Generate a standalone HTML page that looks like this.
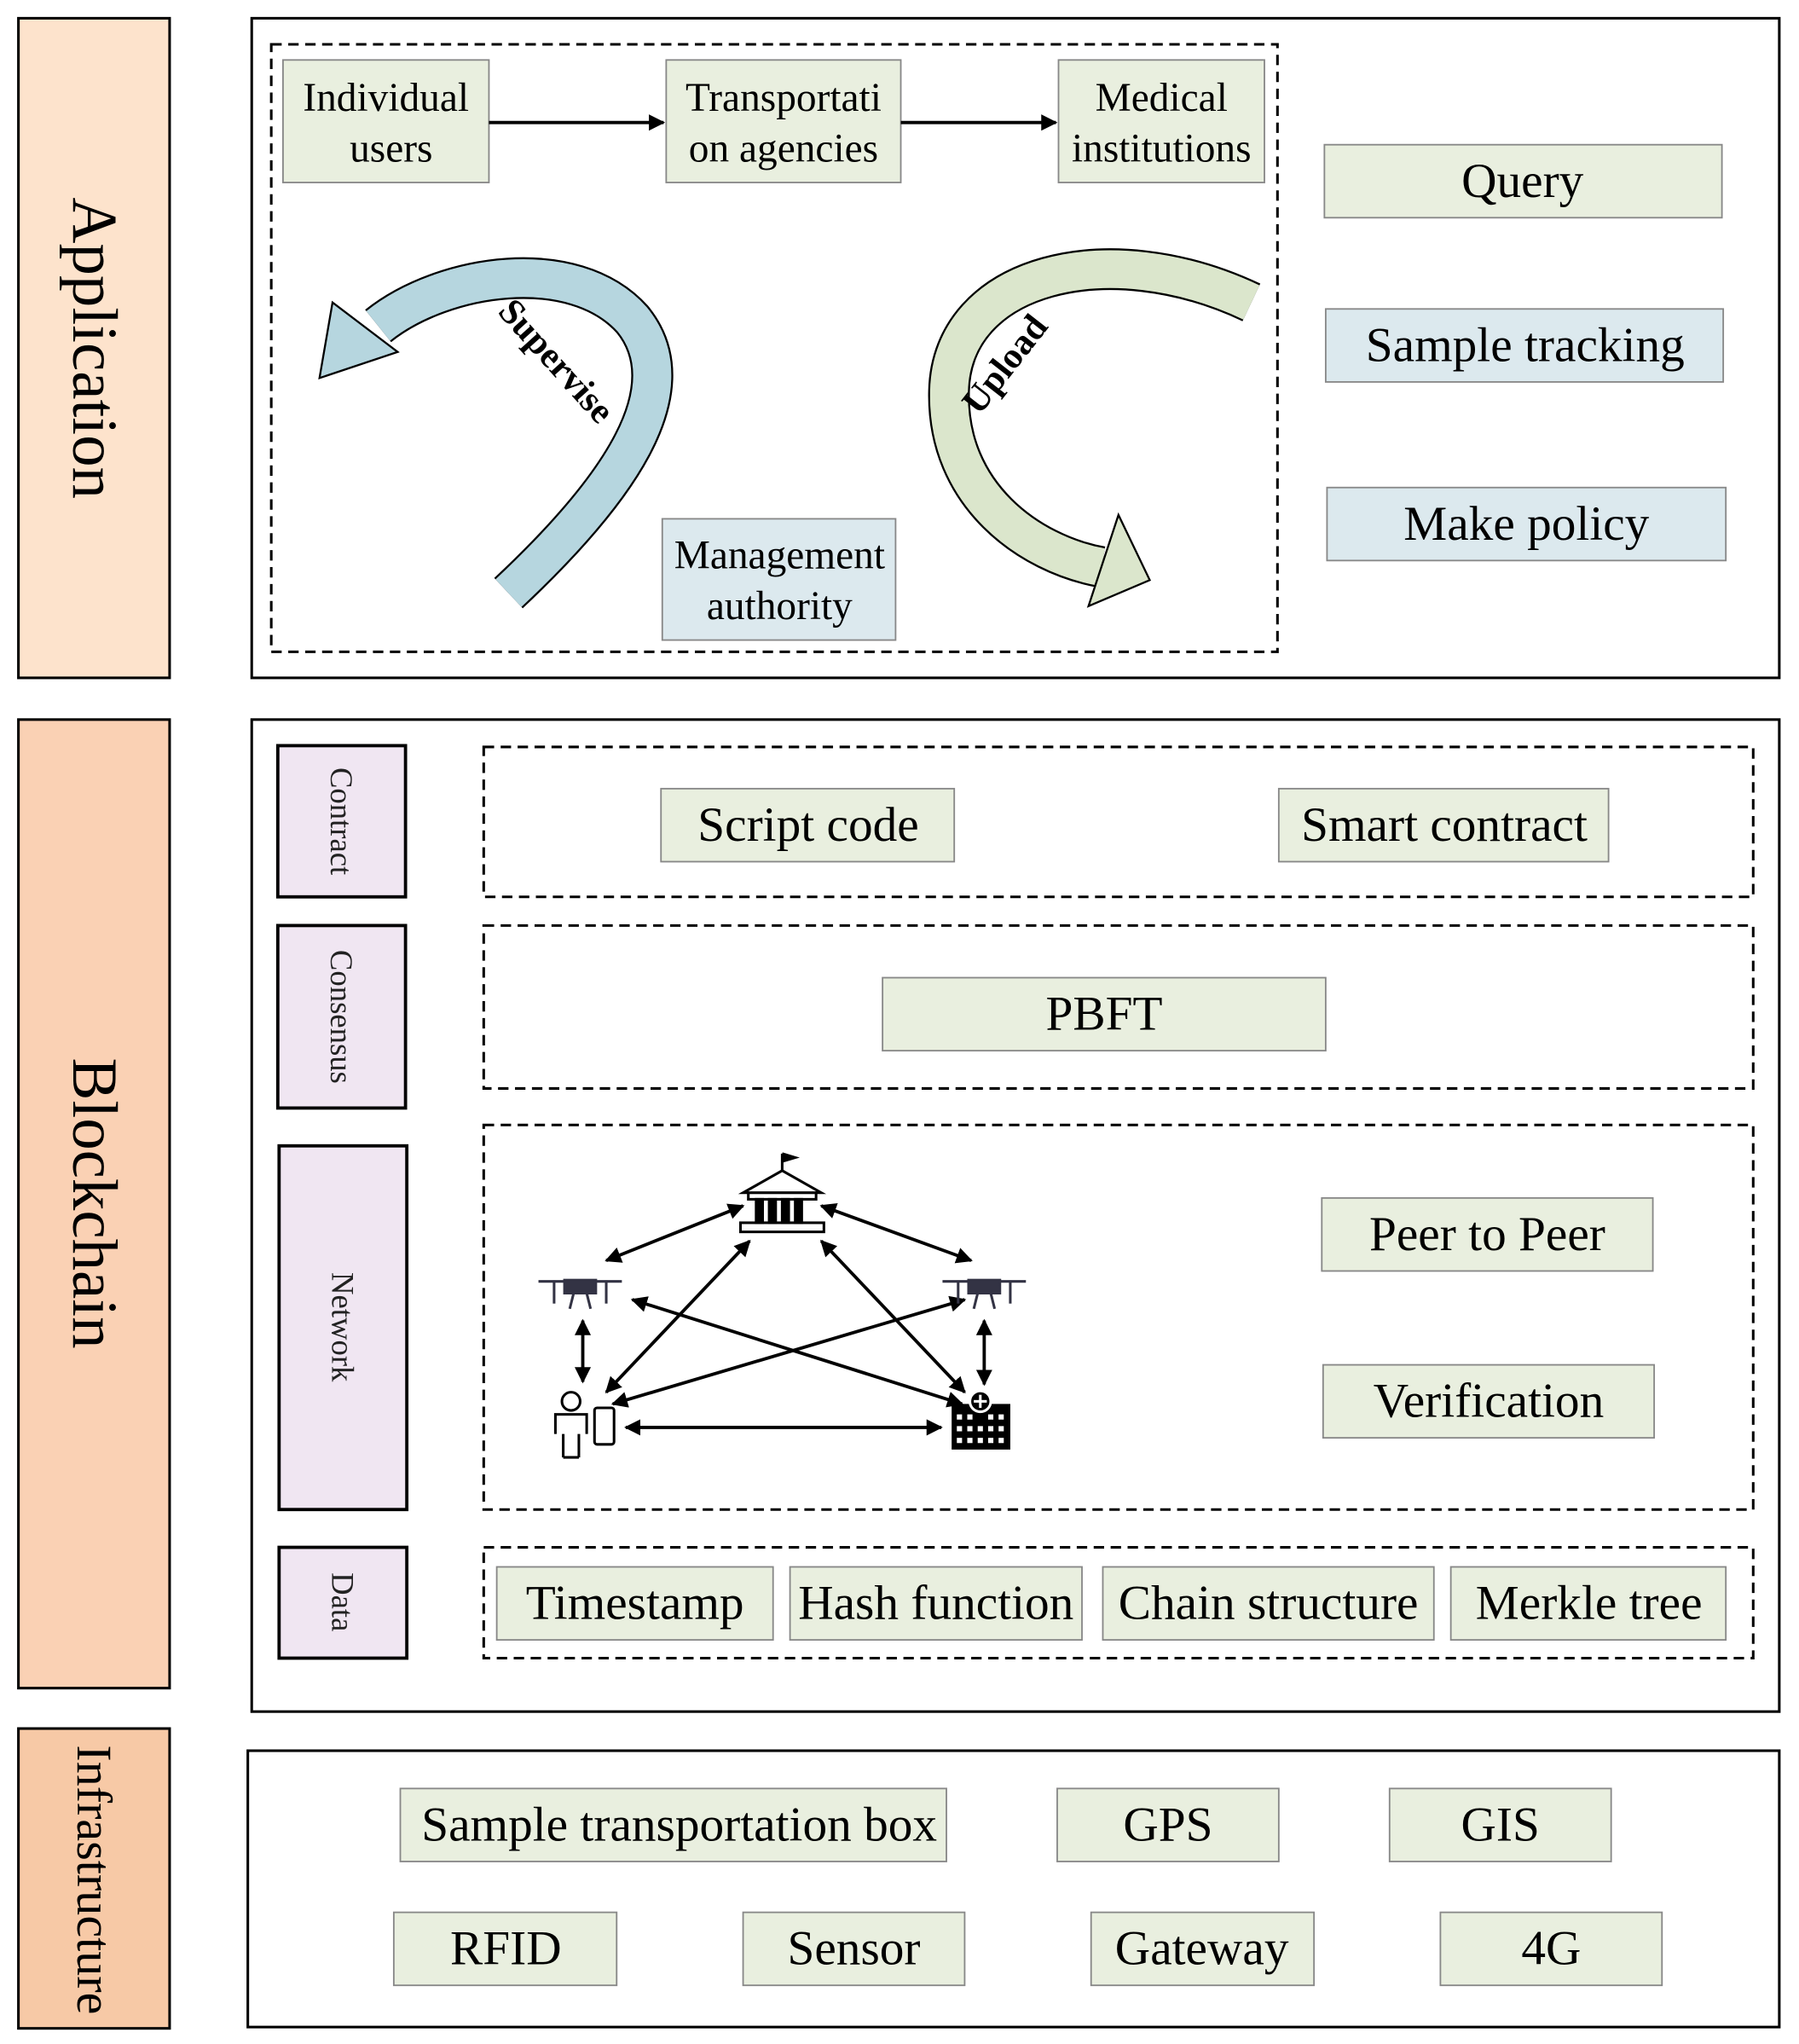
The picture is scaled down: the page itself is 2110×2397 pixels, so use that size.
<!DOCTYPE html>
<html><head><meta charset="utf-8"><style>html,body{margin:0;padding:0;background:#fff}svg{display:block}</style></head>
<body>
<svg xmlns="http://www.w3.org/2000/svg" width="2110" height="2397" viewBox="0 0 1380 1568" font-family="Liberation Serif, serif">
<defs>
<marker id="ah" viewBox="0 0 10 10" refX="9" refY="5" markerWidth="5" markerHeight="5" orient="auto-start-reverse"><path d="M0,0 L10,5 L0,10 z" fill="#000"/></marker>
</defs>
<rect width="1380" height="1568" fill="#fff"/>
<g stroke="#000" stroke-width="2">
<rect x="14" y="14" width="116" height="506" fill="#fde3cc"/>
<rect x="14" y="552" width="116" height="743" fill="#fad1b4"/>
<rect x="14" y="1326" width="116" height="230" fill="#f7c9a6"/>
</g>
<g text-anchor="middle">
<text transform="translate(72,267) rotate(90)" dominant-baseline="central" font-size="49">Application</text>
<text transform="translate(72,923) rotate(90)" dominant-baseline="central" font-size="49">Blockchain</text>
<text transform="translate(72,1442) rotate(90)" dominant-baseline="central" font-size="38">Infrastructure</text>
</g>
<g fill="none" stroke="#000" stroke-width="2">
<rect x="193" y="14" width="1172" height="506"/>
<rect x="193" y="552" width="1172" height="761"/>
<rect x="190" y="1343" width="1175" height="212"/>
</g>
<g fill="none" stroke="#000" stroke-width="2" stroke-dasharray="8,5">
<rect x="208" y="34" width="772" height="466"/>
<rect x="371" y="573" width="974" height="115"/>
<rect x="371" y="710" width="974" height="125"/>
<rect x="371" y="863" width="974" height="295"/>
<rect x="371" y="1187" width="974" height="85"/>
</g>
<g stroke="#888" stroke-width="1.2">
<g fill="#e9efdf">
<rect x="217" y="46" width="158" height="94"/>
<rect x="511" y="46" width="180" height="94"/>
<rect x="812" y="46" width="158" height="94"/>
<rect x="1016" y="111" width="305" height="56"/>
<rect x="507" y="605" width="225" height="56"/>
<rect x="981" y="605" width="253" height="56"/>
<rect x="677" y="750" width="340" height="56"/>
<rect x="1014" y="919" width="254" height="56"/>
<rect x="1015" y="1047" width="254" height="56"/>
<rect x="381" y="1202" width="212" height="56"/>
<rect x="606" y="1202" width="224" height="56"/>
<rect x="846" y="1202" width="254" height="56"/>
<rect x="1113" y="1202" width="211" height="56"/>
<rect x="307" y="1372" width="419" height="56"/>
<rect x="811" y="1372" width="170" height="56"/>
<rect x="1066" y="1372" width="170" height="56"/>
<rect x="302" y="1467" width="171" height="56"/>
<rect x="570" y="1467" width="170" height="56"/>
<rect x="837" y="1467" width="171" height="56"/>
<rect x="1105" y="1467" width="170" height="56"/>
</g>
<g fill="#dce9ee">
<rect x="1017" y="237" width="305" height="56"/>
<rect x="1018" y="374" width="306" height="56"/>
<rect x="508" y="398" width="179" height="93"/>
</g>
</g>
<g stroke="#000" stroke-width="2.5" fill="#f0e6f2">
<rect x="213" y="572" width="98" height="116"/>
<rect x="213" y="710" width="98" height="140"/>
<rect x="214" y="879" width="98" height="279"/>
<rect x="214" y="1187" width="98" height="85"/>
</g>
<g font-size="24" text-anchor="middle" fill="#222">
<text transform="translate(262,630) rotate(90)" dominant-baseline="central">Contract</text>
<text transform="translate(262,780) rotate(90)" dominant-baseline="central">Consensus</text>
<text transform="translate(263,1018) rotate(90)" dominant-baseline="central">Network</text>
<text transform="translate(263,1229) rotate(90)" dominant-baseline="central">Data</text>
</g>
<g font-size="31" text-anchor="middle">
<text x="296" y="85">Individual</text><text x="300" y="124">users</text>
<text x="601" y="85">Transportati</text><text x="601" y="124">on agencies</text>
<text x="891" y="85">Medical</text><text x="891" y="124">institutions</text>
<text x="598" y="436">Management</text><text x="598" y="475">authority</text>
</g>
<g font-size="37.5" text-anchor="middle">
<text x="1168" y="151">Query</text>
<text x="1170" y="277">Sample tracking</text>
<text x="1171" y="414">Make policy</text>
<text x="620" y="645">Script code</text>
<text x="1108" y="645">Smart contract</text>
<text x="847" y="790">PBFT</text>
<text x="1141" y="959">Peer to Peer</text>
<text x="1142" y="1087">Verification</text>
<text x="487" y="1242">Timestamp</text>
<text x="718" y="1242">Hash function</text>
<text x="973" y="1242">Chain structure</text>
<text x="1219" y="1242">Merkle tree</text>
<text x="521" y="1412">Sample transportation box</text>
<text x="896" y="1412">GPS</text>
<text x="1151" y="1412">GIS</text>
<text x="388" y="1507">RFID</text>
<text x="655" y="1507">Sensor</text>
<text x="922" y="1507">Gateway</text>
<text x="1190" y="1507">4G</text>
</g>
<g stroke="#000" stroke-width="2.5" marker-end="url(#ah)">
<line x1="375" y1="94" x2="509" y2="94"/>
<line x1="691" y1="94" x2="810" y2="94"/>
</g>
<path d="M390,455 C470,380 530,300 485,245 C440,195 340,210 290,250" fill="none" stroke="#000" stroke-width="32"/>
<path d="M390,455 C470,380 530,300 485,245 C440,195 340,210 290,250" fill="none" stroke="#b6d6df" stroke-width="29"/>
<polygon points="245,290 255,232 305,270" fill="#b6d6df" stroke="#000" stroke-width="1.5"/>
<text transform="translate(420,283) rotate(48)" font-size="28" text-anchor="middle" font-weight="bold">Supervise</text>
<path d="M960,232 C850,180 730,210 728,300 C726,380 790,425 845,435" fill="none" stroke="#000" stroke-width="32"/>
<path d="M960,232 C850,180 730,210 728,300 C726,380 790,425 845,435" fill="none" stroke="#dbe6cc" stroke-width="29"/>
<polygon points="835,465 882,445 858,395" fill="#dbe6cc" stroke="#000" stroke-width="1.5"/>
<text transform="translate(778,285) rotate(-52)" font-size="28" text-anchor="middle" font-weight="bold">Upload</text>
<g stroke="#000" stroke-width="2.5" marker-end="url(#ah)" marker-start="url(#ah)">
<line x1="465" y1="967" x2="570" y2="925"/>
<line x1="630" y1="925" x2="745" y2="967"/>
<line x1="447" y1="1013" x2="447" y2="1060"/>
<line x1="755" y1="1013" x2="755" y2="1062"/>
<line x1="465" y1="1068" x2="575" y2="952"/>
<line x1="630" y1="952" x2="740" y2="1068"/>
<line x1="485" y1="997" x2="738" y2="1077"/>
<line x1="470" y1="1077" x2="740" y2="997"/>
<line x1="480" y1="1095" x2="722" y2="1095"/>
</g>
<g stroke="#000" stroke-width="2" fill="#fff">
<path d="M570,915 L600,898 L630,915 Z"/>
<rect x="574" y="915" width="52" height="5"/>
<rect x="568" y="938" width="64" height="7"/>
<line x1="600" y1="898" x2="600" y2="885"/><path d="M600,885 L610,888 L600,891" fill="#000"/>
<g fill="#000"><rect x="580" y="920" width="5" height="18"/><rect x="590" y="920" width="5" height="18"/><rect x="600" y="920" width="5" height="18"/><rect x="610" y="920" width="5" height="18"/></g>
</g>
<g fill="#334" stroke="#334" stroke-width="2">
<g transform="translate(445,988)"><line x1="-32" y1="-5" x2="32" y2="-5"/><rect x="-12" y="-6" width="24" height="10"/><line x1="-20" y1="-5" x2="-20" y2="12"/><line x1="20" y1="-5" x2="20" y2="12"/><line x1="-5" y1="4" x2="-8" y2="16"/><line x1="5" y1="4" x2="8" y2="16"/></g>
<g transform="translate(755,988)"><line x1="-32" y1="-5" x2="32" y2="-5"/><rect x="-12" y="-6" width="24" height="10"/><line x1="-20" y1="-5" x2="-20" y2="12"/><line x1="20" y1="-5" x2="20" y2="12"/><line x1="-5" y1="4" x2="-8" y2="16"/><line x1="5" y1="4" x2="8" y2="16"/></g>
</g>
<g stroke="#000" stroke-width="2" fill="#fff">
<circle cx="438" cy="1075" r="7"/>
<path d="M426,1100 L426,1085 L450,1085 L450,1100 M432,1100 L432,1118 M444,1100 L444,1118 M432,1118 L444,1118"/>
<rect x="456" y="1080" width="15" height="28" rx="2"/>
</g>
<g fill="#000">
<rect x="730" y="1077" width="45" height="35"/>
<circle cx="752" cy="1075" r="8" stroke="#fff" stroke-width="2"/>
</g>
<g fill="#fff">
<rect x="734" y="1085" width="4" height="4"/><rect x="742" y="1085" width="4" height="4"/><rect x="758" y="1085" width="4" height="4"/><rect x="766" y="1085" width="4" height="4"/>
<rect x="734" y="1094" width="4" height="4"/><rect x="742" y="1094" width="4" height="4"/><rect x="750" y="1094" width="4" height="4"/><rect x="758" y="1094" width="4" height="4"/><rect x="766" y="1094" width="4" height="4"/>
<rect x="734" y="1103" width="4" height="4"/><rect x="742" y="1103" width="4" height="4"/><rect x="750" y="1103" width="4" height="4"/><rect x="758" y="1103" width="4" height="4"/><rect x="766" y="1103" width="4" height="4"/>
<rect x="751" y="1070" width="2" height="10"/><rect x="747" y="1074" width="10" height="2"/>
</g>
</svg>
</body></html>
